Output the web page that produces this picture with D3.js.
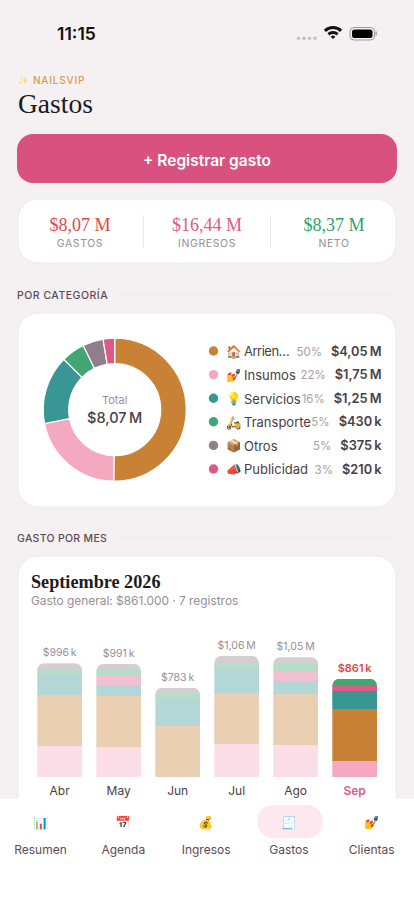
<!DOCTYPE html>
<html>
<head>
<meta charset="utf-8">
<script src="https://cdn.jsdelivr.net/npm/d3@7"></script>
<style>
  html, body { margin: 0; padding: 0; background: #f5f1f3; }
  svg { display: block; }
  text { font-family: Inter, 'Noto Sans', sans-serif; }
  .serif { font-family: 'Liberation Serif', serif; }
</style>
</head>
<body>
<div id="app"></div>
<script>
const categories = ['Arrien…', 'Insumos', 'Servicios', 'Transporte', 'Otros', 'Publicidad']
const categoryIcons = ['🏠', '💅', '💡', '🛵', '📦', '📣']
const categoryValues = [4050, 1750, 1250, 430, 375, 210]
const categoryPercents = ['50%', '22%', '16%', '5%', '5%', '3%']
const categoryLabels = ['$4,05\u2009M', '$1,75\u2009M', '$1,25\u2009M', '$430\u2009k', '$375\u2009k', '$210\u2009k']
const categoryColors = ['#c98235', '#f5a9c0', '#389795', '#41a674', '#8f7f8b', '#dd5a87']

const months = ['Abr', 'May', 'Jun', 'Jul', 'Ago', 'Sep']
const monthLabels = ['$996\u2009k', '$991\u2009k', '$783\u2009k', '$1,06\u2009M', '$1,05\u2009M', '$861\u2009k']
const insumos = [270, 262, 0, 288, 280, 142]
const arriendo = [450, 450, 450, 450, 450, 450]
const servicios = [172, 93, 224, 210, 113, 160]
const publicidad = [0, 87, 0, 0, 76, 49]
const transporte = [52, 52, 52, 38, 84, 60]
const otros = [52, 47, 57, 74, 47, 0]

const stats = ['$8,07 M', '$16,44 M', '$8,37 M']
const statNames = ['GASTOS', 'INGRESOS', 'NETO']
const statColors = ['#e04848', '#dd5a87', '#2fa26d']

const navNames = ['Resumen', 'Agenda', 'Ingresos', 'Gastos', 'Clientas']
const navIcons = ['📊', '📅', '💰', '🧾', '💅']

const svg = d3.select('#app').append('svg').attr('width', 414).attr('height', 900)
svg.append('rect').attr('width', 414).attr('height', 900).attr('fill', '#f5f1f3')

function label(parent, x, y, str, size, color, weight, anchor) {
  return parent.append('text')
    .attr('x', x)
    .attr('y', y)
    .attr('font-size', size)
    .attr('font-weight', weight || 400)
    .attr('fill', color)
    .attr('text-anchor', anchor || 'start')
    .text(str)
}

function card(y, h) {
  svg.append('rect')
    .attr('x', 18).attr('y', y).attr('width', 378).attr('height', h)
    .attr('rx', 20)
    .attr('fill', '#fff')
    .attr('stroke', '#efe9ec')
}

// status bar
label(svg, 57, 40, '11:15', 17.5, '#111', 600)
svg.selectAll('.sig').data(d3.range(4)).join('circle')
  .attr('cx', d => 298.5 + d * 5.5).attr('cy', 38.3).attr('r', 1.7).attr('fill', '#c4c0c2')
const wifiArc = d3.arc().startAngle(-0.78).endAngle(0.78)
;[[0, 3.2], [5, 8], [10, 13]].forEach(r => {
  svg.append('path')
    .attr('transform', 'translate(333,39)')
    .attr('d', wifiArc({ innerRadius: r[0], outerRadius: r[1] }))
    .attr('fill', '#111')
})
svg.append('rect').attr('x', 350).attr('y', 27.5).attr('width', 24.5).attr('height', 12.5).attr('rx', 4)
  .attr('fill', 'none').attr('stroke', '#999')
svg.append('rect').attr('x', 352).attr('y', 29.5).attr('width', 20.5).attr('height', 8.5).attr('rx', 2.5).attr('fill', '#000')
svg.append('rect').attr('x', 375.5).attr('y', 31.5).attr('width', 1.3).attr('height', 4).attr('fill', '#999')

// header
label(svg, 18, 83, '✨', 8.5, '#f0c040').attr('opacity', 0.6)
label(svg, 33, 83.5, 'NAILSVIP', 10, '#d89a4f', 500).attr('letter-spacing', 0.8)
label(svg, 18, 113, 'Gastos', 27.5, '#1f1a1c').attr('class', 'serif')

svg.append('rect').attr('x', 17).attr('y', 134).attr('width', 380).attr('height', 49).attr('rx', 16).attr('fill', '#d9527f')
label(svg, 207, 165.5, '+ Registrar gasto', 15.5, '#fff', 600, 'middle')

// totals
card(199, 64)
stats.forEach((s, i) => {
  const cx = 80 + i * 127
  label(svg, cx, 230.5, s, 18, statColors[i], 400, 'middle').attr('class', 'serif')
  label(svg, cx, 247, statNames[i], 10.5, '#9a8d95', 400, 'middle').attr('letter-spacing', 0.6)
})
;[143.5, 270.5].forEach(x => {
  svg.append('line').attr('x1', x).attr('x2', x).attr('y1', 215).attr('y2', 248).attr('stroke', '#eee8eb')
})

// sections
label(svg, 17, 299, 'POR CATEGORÍA', 10.5, '#5b4a54', 500).attr('letter-spacing', 0.5)
svg.append('line').attr('x1', 120).attr('x2', 397).attr('y1', 294.5).attr('y2', 294.5).attr('stroke', '#efe9ec')
label(svg, 17, 542, 'GASTO POR MES', 10.5, '#5b4a54', 500).attr('letter-spacing', 0.3)
svg.append('line').attr('x1', 118).attr('x2', 397).attr('y1', 537.5).attr('y2', 537.5).attr('stroke', '#efe9ec')

// donut
card(313, 194)
const pie = d3.pie().sort(null)
const arc = d3.arc().innerRadius(46).outerRadius(71.5)
const donut = svg.append('g').attr('transform', 'translate(114.7,409.7)')
donut.selectAll('path').data(pie(categoryValues)).join('path')
  .attr('d', arc)
  .attr('fill', (d, i) => categoryColors[i])
  .attr('stroke', '#fff')
  .attr('stroke-width', 1.2)
label(donut, 0, -6, 'Total', 11, '#9a8d95', 400, 'middle')
label(donut, 0, 13, '$8,07\u2009M', 14.5, '#4a3d45', 500, 'middle')

const legendY = d3.scalePoint().domain(categories).range([351, 469])
categories.forEach((c, i) => {
  const y = legendY(c)
  svg.append('circle').attr('cx', 213.5).attr('cy', y).attr('r', 4.7).attr('fill', categoryColors[i])
  label(svg, 225.5, y + 5, categoryIcons[i], 12.5, '#333')
  const name = label(svg, 244, y + 5.3, c, 13, '#4a3d45')
  if (i === 0) name.attr('letter-spacing', -0.5)
  const val = label(svg, 381.5, y + 4.5, categoryLabels[i], 12.8, '#4a3d45', 600, 'end')
  const w = val.node().getComputedTextLength()
  label(svg, 381.5 - w - 9, y + 4.5, categoryPercents[i], 11.5, '#a99ea5', 400, 'end')
})

// monthly bars
card(556, 300)
label(svg, 31, 588, 'Septiembre 2026', 18.2, '#1f1a1c', 700).attr('class', 'serif')
label(svg, 31, 604.5, 'Gasto general: $861.000 · 7 registros', 11.9, '#9a8d95')

const rows = months.map((m, i) => ({
  month: m,
  insumos: insumos[i],
  arriendo: arriendo[i],
  servicios: servicios[i],
  publicidad: publicidad[i],
  transporte: transporte[i],
  otros: otros[i],
}))
const stackKeys = ['insumos', 'arriendo', 'servicios', 'publicidad', 'transporte', 'otros']
const stackColors = ['#f5a9c0', '#c98235', '#389795', '#dd5a87', '#41a674', '#8f7f8b']
const series = d3.stack().keys(stackKeys)(rows)
const x = d3.scaleBand().domain(months).range([37.3, 377]).paddingInner(0.2424)
const y = d3.scaleLinear().domain([0, 1060]).range([777, 656])

const defs = svg.append('defs')
rows.forEach((r, i) => {
  const top = d3.max(series, s => s[i][1])
  defs.append('clipPath').attr('id', `bar-clip-${i}`)
    .append('rect')
    .attr('x', x(r.month))
    .attr('y', y(top))
    .attr('width', x.bandwidth())
    .attr('height', y(0) - y(top) + 10)
    .attr('rx', 7)
  const g = svg.append('g')
    .attr('clip-path', `url(#bar-clip-${i})`)
    .attr('opacity', r.month === 'Sep' ? 1 : 0.38)
  series.forEach((s, k) => {
    g.append('rect')
      .attr('x', x(r.month))
      .attr('y', y(s[i][1]))
      .attr('width', x.bandwidth())
      .attr('height', y(s[i][0]) - y(s[i][1]))
      .attr('fill', stackColors[k])
      .attr('shape-rendering', 'crispEdges')
  })
  const cx = x(r.month) + x.bandwidth() / 2
  const current = r.month === 'Sep'
  label(svg, cx, y(top) - 7, monthLabels[i], current ? 11 : 10.5, current ? '#e04848' : '#9a8d95', current ? 600 : 400, 'middle')
  label(svg, cx, 795, r.month, 12, current ? '#dd5a87' : '#4a3d45', current ? 600 : 400, 'middle')
})

// bottom nav
svg.append('rect').attr('x', 0).attr('y', 799).attr('width', 414).attr('height', 101).attr('fill', '#fff')
svg.append('rect').attr('x', 257).attr('y', 805).attr('width', 66).attr('height', 33).attr('rx', 16.5).attr('fill', '#fde8ed')
navNames.forEach((n, i) => {
  const cx = 40.5 + i * 82.8
  label(svg, cx, 827, navIcons[i], 12.5, '#333', 400, 'middle')
  label(svg, cx, 854, n, 12, '#5b4a54', 400, 'middle')
})
</script>
</body>
</html>
